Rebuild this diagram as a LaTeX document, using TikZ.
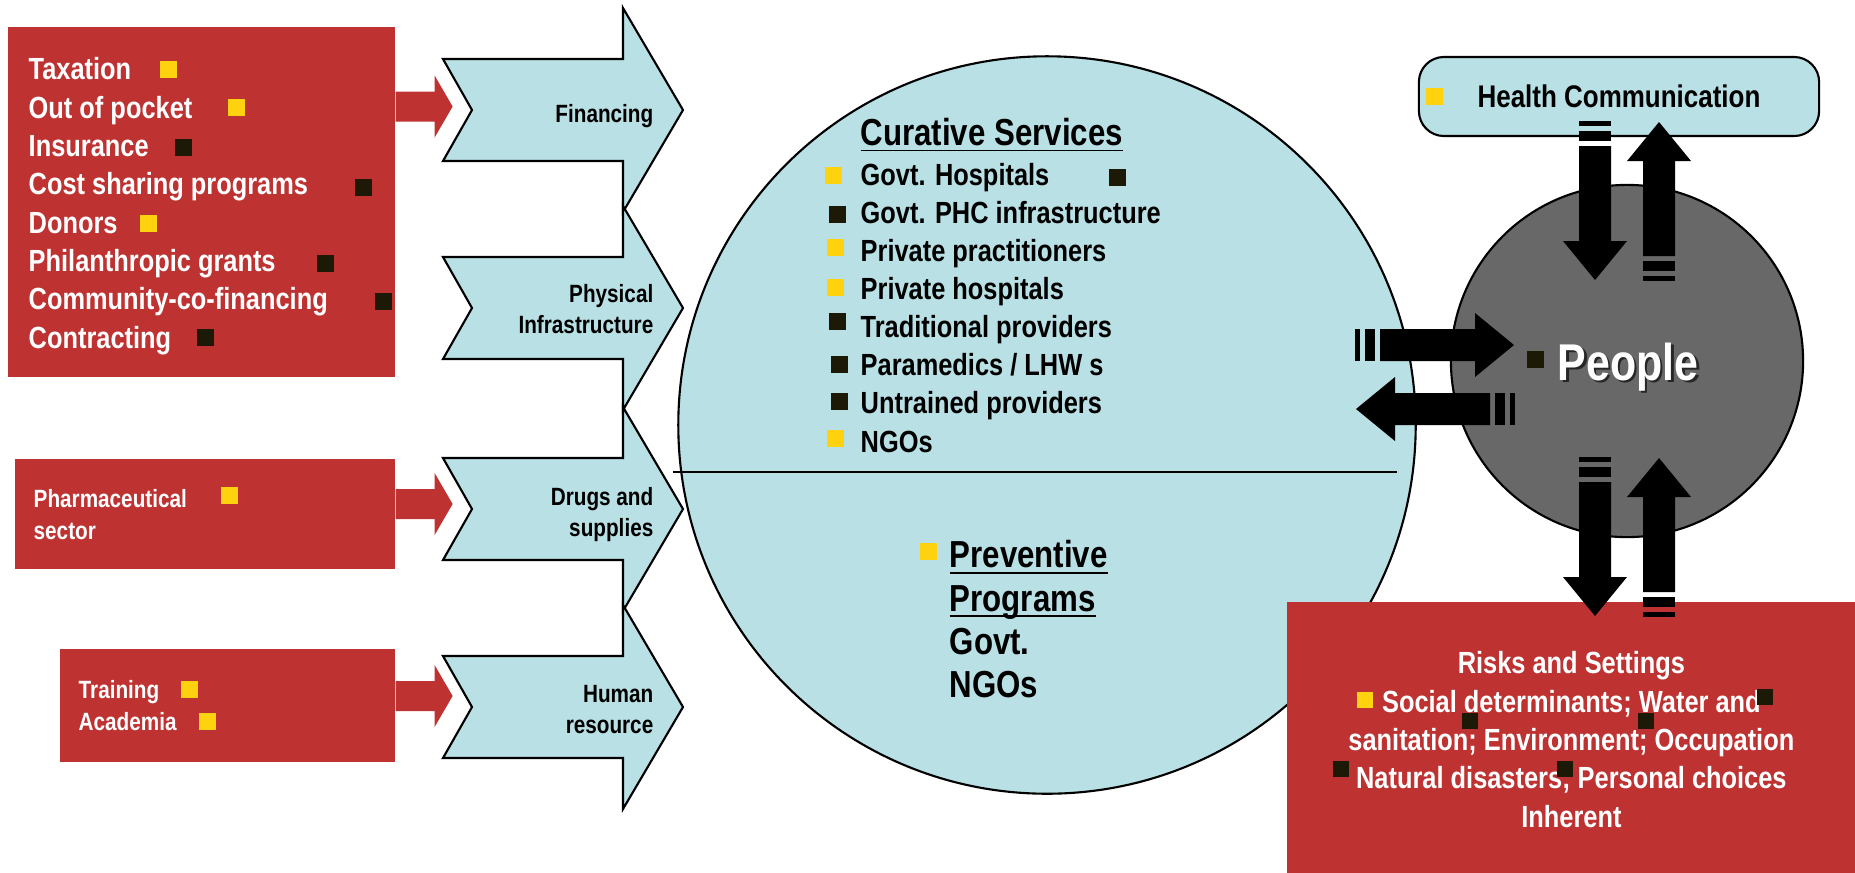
\documentclass[tikz,border=0pt]{standalone}
\usepackage{fontspec}
\setmainfont{Liberation Sans}[FakeStretch=0.83]
\usepackage{tikz}

\definecolor{boxred}{RGB}{190,50,50}
\definecolor{paleblue}{RGB}{185,224,228}
\definecolor{peoplegray}{RGB}{104,104,104}
\definecolor{bulletyellow}{RGB}{255,210,15}
\definecolor{bulletdark}{RGB}{28,26,6}

\begin{document}
\begin{tikzpicture}[x=0.01cm, y=-0.01cm]
        \tikzstyle{redbox} = [rectangle, fill=boxred, inner sep=0pt, anchor=north west]
        \tikzstyle{chev} = [draw=black, fill=paleblue, line width=0.6pt, line join=miter]
        \tikzstyle{whitetxt} = [text=white, inner sep=0pt, align=left, anchor=north west]
        \tikzstyle{chevtxt} = [inner sep=0pt, align=right, anchor=north east, font=\bfseries\fontsize{7.1}{8.82}\selectfont]
        \tikzstyle{listtxt} = [inner sep=0pt, align=left, anchor=north west, font=\bfseries\fontsize{8.7}{10.84}\selectfont]
        \tikzstyle{headtxt} = [inner sep=0pt, align=left, font=\bfseries\fontsize{10.7}{12.32}\selectfont]
        \tikzstyle{ybul} = [fill=bulletyellow]
        \tikzstyle{dbul} = [fill=bulletdark]
        \tikzset{
            chevron/.pic={\draw[chev] (0,-51) -- (180,-51) -- (180,-102) -- (240,0) -- (180,102) -- (180,51) -- (0,51) -- (29,0) -- cycle;},
            redarrow/.pic={\fill[boxred] (0,-15) -- (39,-15) -- (39,-31) -- (57,0) -- (39,31) -- (39,15) -- (0,15) -- cycle;},
            stripearrow/.pic={
                \fill (0,-16) rectangle (5,16);
                \fill (10,-16) rectangle (20,16);
                \fill (25,-16) -- (120,-16) -- (120,-32) -- (159,0) -- (120,32) -- (120,16) -- (25,16) -- cycle;}
        }

        \useasboundingbox (0,0) rectangle (1855,872);

        % sources on the left
        \node (fund) [redbox, minimum width=3.87cm, minimum height=3.50cm] at (7,26) {};
        \node (pharma) [redbox, minimum width=3.80cm, minimum height=1.10cm] at (14,458) {};
        \node (train) [redbox, minimum width=3.35cm, minimum height=1.13cm] at (59,648) {};

        \node (fundtxt) [whitetxt, font=\bfseries\fontsize{8.7}{10.9}\selectfont] at (28,52.2)
            {\strut Taxation\\Out of pocket\\Insurance\\Cost sharing programs\\Donors\\Philanthropic grants\\Community-co-financing\\Contracting};
        \node (pharmatxt) [whitetxt, font=\bfseries\fontsize{7.1}{8.9}\selectfont] at (33,485.1) {\strut Pharmaceutical\\sector};
        \node (traintxt) [whitetxt, font=\bfseries\fontsize{7.1}{8.9}\selectfont] at (78,676.1) {\strut Training\\Academia};

        \path[ybul] (160,61) rectangle ++(17,17);
        \path[ybul] (228,99) rectangle ++(17,17);
        \path[dbul] (175,139) rectangle ++(17,17);
        \path[dbul] (355,179) rectangle ++(17,17);
        \path[ybul] (140,215) rectangle ++(17,17);
        \path[dbul] (317,255) rectangle ++(17,17);
        \path[dbul] (375,293) rectangle ++(17,17);
        \path[dbul] (197,329) rectangle ++(17,17);
        \path[ybul] (221,487) rectangle ++(17,17);
        \path[ybul] (181,681) rectangle ++(17,17);
        \path[ybul] (199,713) rectangle ++(17,17);

        % health system building blocks
        \node (care) [circle, draw, fill=paleblue, line width=0.6pt, minimum size=7.37cm, inner sep=0pt] at (1047,425) {};
        \draw[line width=0.6pt] (673,472) -- (1397,472);

        \pic at (443,110) {chevron};
        \pic at (443,308) {chevron};
        \pic at (443,509) {chevron};
        \pic at (443,707) {chevron};
        \node (finlbl) [chevtxt] at (654,100.3) {\strut Financing};
        \node (infralbl) [chevtxt] at (654,280.3) {\strut Physical\\Infrastructure};
        \node (druglbl) [chevtxt] at (654,483.3) {\strut Drugs and\\supplies};
        \node (hrlbl) [chevtxt] at (654,680.3) {\strut Human\\resource};

        \coordinate (finin) at (394,106.5);
        \coordinate (drugin) at (394,504);
        \coordinate (hrin) at (394,696);
        \pic at (fund.east |- finin) {redarrow};
        \pic at (pharma.east |- drugin) {redarrow};
        \pic at (train.east |- hrin) {redarrow};

        % services
        \node (curhead) [headtxt, anchor=base west] at (860,145) {\underline{Curative Services}};
        \node (curlist) [listtxt] at (860,157.8)
            {\strut Govt. Hospitals\\Govt. PHC infrastructure\\Private practitioners\\Private hospitals\\Traditional providers\\Paramedics / LHW s\\Untrained providers\\NGOs};
        \node (prev) [headtxt, anchor=north west] at (949,536.7)
            {\strut\underline{Preventive}\\\underline{\smash{Programs}}\\Govt.\\NGOs};

        \path[ybul] (825,167) rectangle ++(17,17);
        \path[dbul] (1109,169) rectangle ++(17,17);
        \path[dbul] (829,206) rectangle ++(17,17);
        \path[ybul] (827,239) rectangle ++(17,17);
        \path[ybul] (827,279) rectangle ++(17,17);
        \path[dbul] (829,313) rectangle ++(17,17);
        \path[dbul] (831,356) rectangle ++(17,17);
        \path[dbul] (831,393) rectangle ++(17,17);
        \path[ybul] (827,430) rectangle ++(17,17);
        \path[ybul] (920,543) rectangle ++(17,17);

        % risks
        \node (risk) [redbox, minimum width=5.69cm, minimum height=2.71cm, align=center, text=white,
            font=\bfseries\fontsize{8.7}{10.9}\selectfont] at (1286,601)
            {\strut Risks and Settings\\Social determinants; Water and\\sanitation; Environment; Occupation\\Natural disasters; Personal choices\\Inherent};
        \path[ybul] (1357,692) rectangle ++(16,16);
        \path[dbul] (1757,689) rectangle ++(16,16);
        \path[dbul] (1462,713) rectangle ++(16,16);
        \path[dbul] (1638,713) rectangle ++(16,16);
        \path[dbul] (1333,761) rectangle ++(16,16);
        \path[dbul] (1557,761) rectangle ++(16,16);

        % people
        \node (hc) [draw, fill=paleblue, line width=0.6pt, rounded corners=0.25cm, minimum width=4.0cm, minimum height=0.79cm,
            font=\bfseries\fontsize{8.9}{10.7}\selectfont] at (1619,96.5) {Health Communication};
        \path[ybul] (1426,88) rectangle ++(17,17);

        \node (people) [circle, draw, fill=peoplegray, line width=0.6pt, minimum size=3.52cm, inner sep=0pt] at (1627,361) {};
        \node (peopleshade) [anchor=base west, inner sep=0pt, text=black!85, font=\bfseries\fontsize{14.7}{17}\selectfont] at (1559.5,382.5) {People};
        \node (peopletxt) [anchor=base west, inner sep=0pt, text=white, font=\bfseries\fontsize{14.7}{17}\selectfont] at (1557,380) {People};
        \path[dbul] (1527,351) rectangle ++(17,17);

        \pic[rotate=-90] at (1595,121) {stripearrow};
        \pic[rotate=90] at (1659,281) {stripearrow};
        \pic at (1355,345) {stripearrow};
        \pic[rotate=180] at (1515,409) {stripearrow};
        \pic[rotate=-90] at (1595,457) {stripearrow};
        \pic[rotate=90] at (1659,617) {stripearrow};
\end{tikzpicture}
\end{document}
